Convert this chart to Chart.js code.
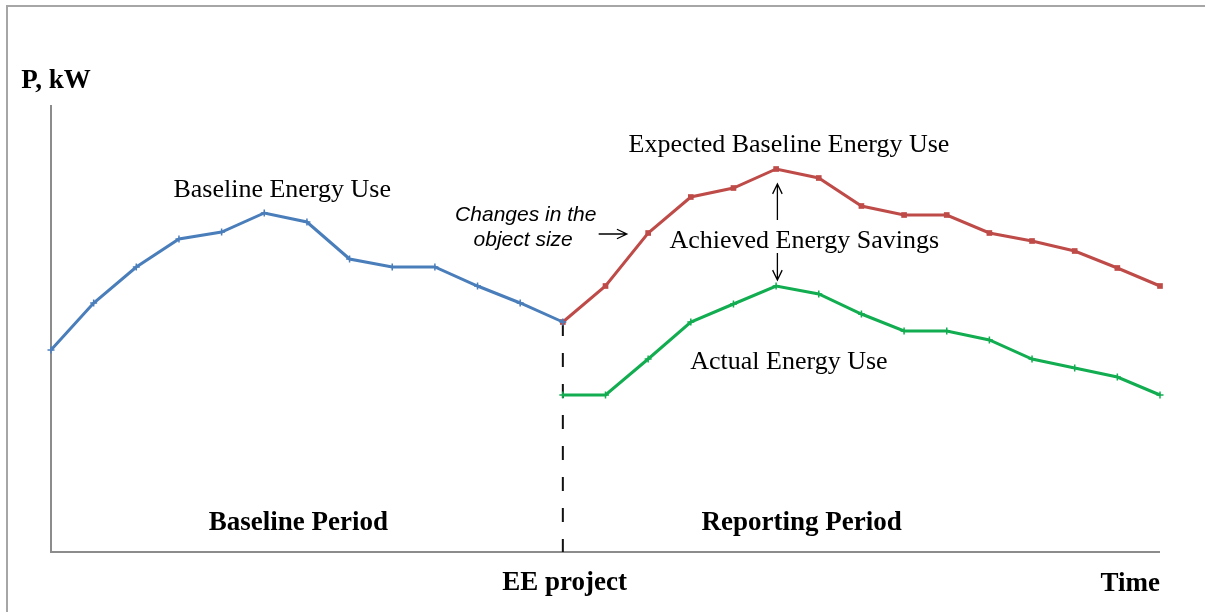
<!DOCTYPE html>
<html>
<head>
<meta charset="utf-8">
<script src="https://cdn.jsdelivr.net/npm/chart.js@4/dist/chart.umd.min.js"></script>
<style>
  html, body { margin: 0; padding: 0; background: #fff; }
  #wrap { position: absolute; left: 0; top: 0; width: 1205px; height: 612px; }
</style>
</head>
<body>
<div id="wrap"><canvas id="energyChart"></canvas></div>
<script>
// time steps (no tick labels are shown on the original)
const periods = ["0","1","2","3","4","5","6","7","8","9","10","11","12","13",
                 "14","15","16","17","18","19","20","21","22","23","24","25","26"];

// P, kW
const baselineUse = [20.2, 24.9, 28.5, 31.3, 32.0, 33.9, 33.0, 29.3, 28.5, 28.5, 26.6, 24.9, 23.0,
                     null, null, null, null, null, null, null, null, null, null, null, null, null, null];
const expectedUse = [null, null, null, null, null, null, null, null, null, null, null, null,
                     23.0, 26.6, 31.9, 35.5, 36.4, 38.3, 37.4, 34.6, 33.7, 33.7, 31.9, 31.1, 30.1, 28.4, 26.6];
const actualUse   = [null, null, null, null, null, null, null, null, null, null, null, null,
                     15.7, 15.7, 19.3, 23.0, 24.8, 26.6, 25.8, 23.8, 22.1, 22.1, 21.2, 19.3, 18.4, 17.5, 15.7];

const projectIndex = 12;
const yMax = 44.7;

// text notes: [text, x index, y value, font, align]
const notes = [
    ["P, kW", -0.70, 46.4, "bold 27px 'Liberation Serif'", "left"],
    ["Baseline Energy Use", 5.42, 35.5, "26px 'Liberation Serif'", "center"],
    ["Expected Baseline Energy Use", 17.3, 40.0, "26px 'Liberation Serif'", "center"],
    ["Achieved Energy Savings", 17.66, 30.4, "26px 'Liberation Serif'", "center"],
    ["Actual Energy Use", 17.3, 18.3, "26px 'Liberation Serif'", "center"],
    ["Changes in the", 11.13, 33.1, "italic 21px 'Liberation Sans'", "center"],
    ["object size", 11.07, 30.6, "italic 21px 'Liberation Sans'", "center"],
    ["Baseline Period", 5.8, 2.2, "bold 27px 'Liberation Serif'", "center"],
    ["Reporting Period", 17.6, 2.2, "bold 27px 'Liberation Serif'", "center"],
    ["EE project", 12.04, -3.8, "bold 27px 'Liberation Serif'", "center"],
    ["Time", 26, -3.9, "bold 27px 'Liberation Serif'", "right"]
];

function arrow(ctx, x1, y1, x2, y2) {
    const a = Math.atan2(y2 - y1, x2 - x1);
    const len = 11, spread = 0.45;
    ctx.beginPath();
    ctx.moveTo(x1, y1);
    ctx.lineTo(x2, y2);
    ctx.moveTo(x2 - len * Math.cos(a - spread), y2 - len * Math.sin(a - spread));
    ctx.lineTo(x2, y2);
    ctx.lineTo(x2 - len * Math.cos(a + spread), y2 - len * Math.sin(a + spread));
    ctx.stroke();
}

const decorPlugin = {
    id: "decor",
    beforeDraw(chart) {
        const ctx = chart.ctx;
        const area = chart.chartArea;
        const xs = chart.scales.x, ys = chart.scales.y;
        ctx.save();
        // picture frame
        ctx.strokeStyle = "#a6a6a6";
        ctx.lineWidth = 2;
        ctx.beginPath();
        ctx.moveTo(7, 612);
        ctx.lineTo(7, 6);
        ctx.lineTo(1205, 6);
        ctx.stroke();
        // axes
        ctx.strokeStyle = "#8c8c8c";
        ctx.lineWidth = 2;
        ctx.beginPath();
        ctx.moveTo(area.left, area.top);
        ctx.lineTo(area.left, area.bottom);
        ctx.lineTo(area.right, area.bottom);
        ctx.stroke();
        // EE project marker
        const px = xs.getPixelForValue(projectIndex);
        ctx.strokeStyle = "#111";
        ctx.lineWidth = 2;
        ctx.setLineDash([14, 17]);
        ctx.beginPath();
        ctx.moveTo(px, ys.getPixelForValue(expectedUse[projectIndex]));
        ctx.lineTo(px, area.bottom);
        ctx.stroke();
        ctx.restore();
    },
    afterDraw(chart) {
        const ctx = chart.ctx;
        const xs = chart.scales.x, ys = chart.scales.y;
        ctx.save();
        ctx.fillStyle = "#000";
        ctx.textBaseline = "alphabetic";
        notes.forEach(n => {
            ctx.font = n[3];
            ctx.textAlign = n[4];
            ctx.fillText(n[0], xs.getPixelForValue(n[1]), ys.getPixelForValue(n[2]));
        });
        // arrows
        ctx.strokeStyle = "#000";
        ctx.lineWidth = 1.3;
        arrow(ctx, xs.getPixelForValue(12.84), ys.getPixelForValue(31.8),
                   xs.getPixelForValue(13.5), ys.getPixelForValue(31.8));
        const sx = xs.getPixelForValue(17.03);
        arrow(ctx, sx, ys.getPixelForValue(33.2), sx, ys.getPixelForValue(36.8));
        arrow(ctx, sx, ys.getPixelForValue(29.9), sx, ys.getPixelForValue(27.2));
        ctx.restore();
    }
};

new Chart("energyChart", {
    type: "line",
    data: {
        labels: periods,
        datasets: [{
            label: "Baseline Energy Use",
            data: baselineUse,
            borderColor: "#4a7ebb",
            backgroundColor: "#4a7ebb",
            pointStyle: "cross",
            pointRadius: 3.5,
            pointBorderWidth: 1.5,
            borderWidth: 3,
            fill: false
        }, {
            label: "Expected Baseline Energy Use",
            data: expectedUse,
            borderColor: "#be4b48",
            backgroundColor: "#be4b48",
            pointStyle: "rect",
            pointRadius: 4,
            pointBorderWidth: 0,
            borderWidth: 3,
            fill: false
        }, {
            label: "Actual Energy Use",
            data: actualUse,
            borderColor: "#12ad50",
            backgroundColor: "#12ad50",
            pointStyle: "cross",
            pointRadius: 3.5,
            pointBorderWidth: 1.5,
            borderWidth: 3,
            fill: false
        }]
    },
    options: {
        responsive: true,
        maintainAspectRatio: false,
        animation: false,
        layout: {padding: {left: 51, right: 45, top: 105, bottom: 60}},
        plugins: {
            legend: {display: false},
            tooltip: {enabled: false}
        },
        scales: {
            x: {display: false, offset: false},
            y: {display: false, min: 0, max: yMax}
        },
        elements: {line: {tension: 0}}
    },
    plugins: [decorPlugin]
});
</script>
</body>
</html>
